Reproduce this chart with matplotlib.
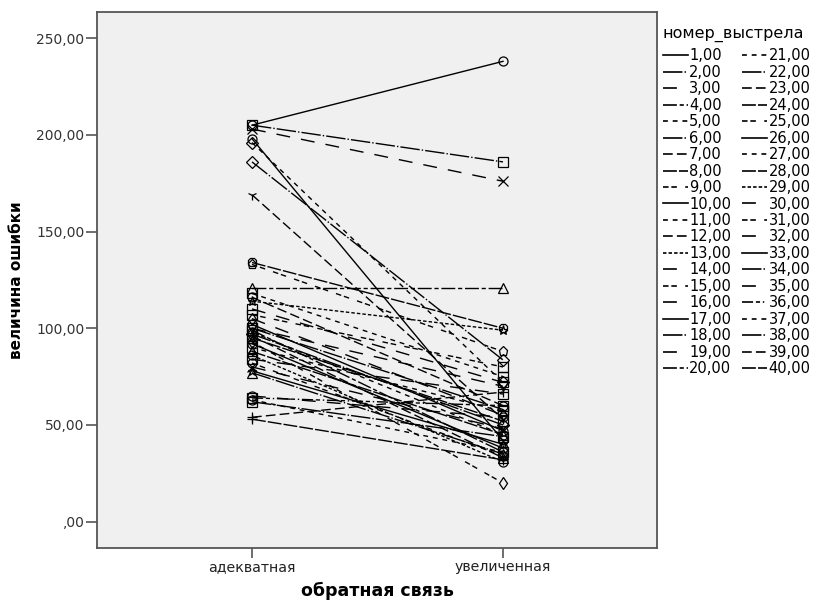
import matplotlib
matplotlib.use("Agg")
import matplotlib.pyplot as plt
from matplotlib.lines import Line2D
from matplotlib.ticker import FuncFormatter, FixedLocator

plt.rcParams['font.family'] = ['DejaVu Sans']
plt.rcParams['lines.scale_dashes'] = False

categories = ["адекватная", "увеличенная"]
series_names = [f"{i},00" for i in range(1, 41)]
adequate = [205, 205, 203, 121, 196, 186, 169, 134, 133, 198,
            118, 116, 114, 110, 107, 105, 102, 100, 100, 99,
            98, 97, 96, 95, 93, 92, 90, 88, 86, 84,
            82, 80, 78, 77, 65, 64, 63, 62, 54, 53]
increased = [238, 186, 176, 121, 72, 83.6, 53, 100, 88, 42,
             75, 60, 99, 72, 80, 55, 47, 58, 70, 36,
             45, 50, 33, 52, 20, 38, 57, 45, 31, 66,
             34, 48, 40, 35, 54, 60, 36, 44, 67, 32]
y_ticks = [0, 50, 100, 150, 200, 250]

S = '-'
DOT = (0, (14, 1.5, 1, 1.5))
SH = (0, (10, 8))
LS = (0, (10, 2, 3, 2))
D = (0, (3.5, 3.5))
LL = (0, (7, 3))
LD = (0, (10, 1.5))
DD = (0, (4, 2, 4, 6))
F = (0, (2.5, 1.5))
LSD = (0, (8, 2, 3, 2, 1, 2))
styles = [S, DOT, SH, LS, D, DOT, LL, LD, DD, S,
          D, LL, F, SH, DD, SH, S, DOT, SH, LS,
          D, DOT, LL, LD, DD, S, D, LD, F, SH,
          DD, SH, S, DOT, SH, LSD, D, DOT, LL, LD]
markers = ['o', 's', 'x', '^', 'D', 'D', '1', '8', 'p', 'o',
           's', 'o', '*', 's', 's', 'd', 'o', 's', 'v', 's',
           'o', 'D', '^', 's', 'd', 'o', 's', '^', 'o', 's',
           'o', 'x', '*', '^', 'o', 's', 'o', 's', '+', '+']

fig = plt.figure(figsize=(8.16, 6.02), dpi=100)
ax = fig.add_axes([97/816, 1-548/602, (657-97)/816, (548-12)/602])
ax.set_facecolor('#f0f0f0')

xs = list(range(len(categories)))
handles = []
for i in range(40):
    ax.plot(xs, [adequate[i], increased[i]], color='black', lw=1.0,
            linestyle=styles[i], marker=markers[i], markersize=6.5,
            markerfacecolor='none', markeredgecolor='black', markeredgewidth=0.9)
    handles.append(Line2D([], [], color='black', lw=1.2, linestyle=styles[i]))

ax.set_xlim(-0.6175, 1.6135)
ax.set_ylim(-13.6, 263.5)
ax.set_xticks(xs)
ax.set_xticklabels(categories)
ax.yaxis.set_major_locator(FixedLocator(y_ticks))
ax.yaxis.set_major_formatter(FuncFormatter(lambda v, p: ",00" if v == 0 else f"{v:.2f}".replace('.', ',')))

for sp in ax.spines.values():
    sp.set_color('#555555')
    sp.set_linewidth(1.3)
ax.tick_params(axis='y', length=8, width=1.2, color='#555555', labelsize=10, labelcolor='#333333', pad=1)
ax.tick_params(axis='x', length=7, width=1.2, color='#555555', labelsize=10.2, labelcolor='#222222', pad=2)

ax.set_ylabel("величина ошибки", fontsize=11, fontweight='bold', labelpad=9)
ax.set_xlabel("обратная связь", fontsize=12.5, fontweight='bold', labelpad=5)

leg = fig.legend(handles, series_names, ncol=2, loc='upper left',
                 bbox_to_anchor=(663/816, 1-26/602), frameon=False,
                 fontsize=10.5, title="номер_выстрела", title_fontsize=11.5,
                 handlelength=1.7, handletextpad=0.1, columnspacing=0.75,
                 labelspacing=0.1, borderpad=0, borderaxespad=0,
                 alignment='left')
leg._legend_box.sep = 4.5

fig.savefig("out.png", dpi=100)
